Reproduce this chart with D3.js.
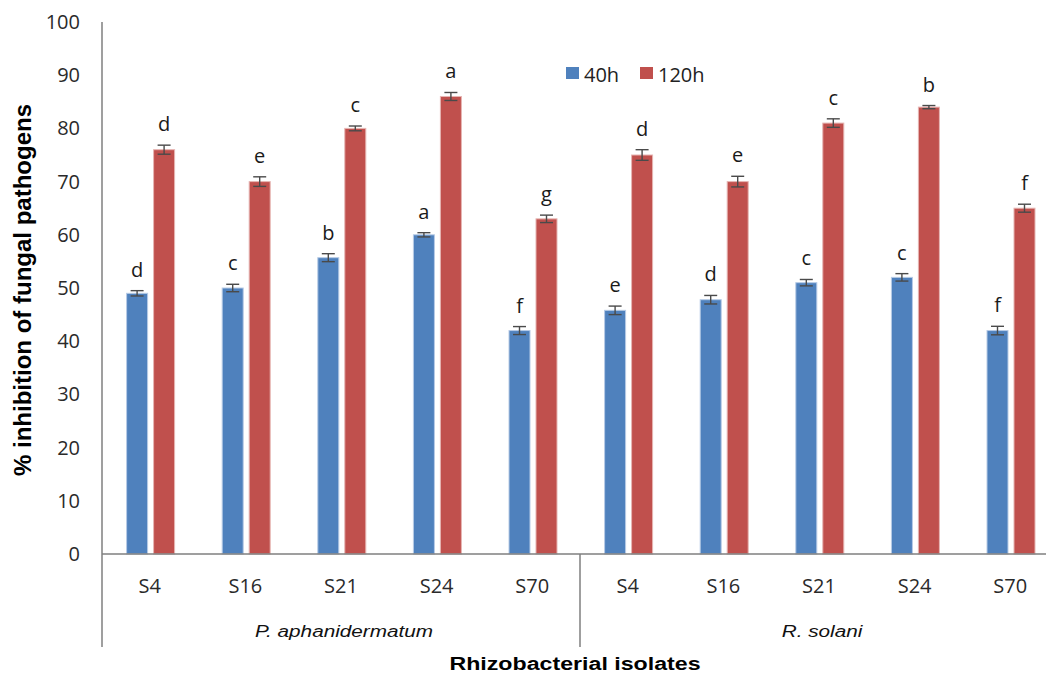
<!DOCTYPE html>
<html>
<head>
<meta charset="utf-8">
<script src="https://cdn.jsdelivr.net/npm/d3@7"></script>
<style>
  html, body { margin: 0; padding: 0; background: #fff; }
  svg { display: block; }
</style>
</head>
<body>
<svg id="chart" width="1046" height="673"></svg>
<script>
// Isolates tested against each pathogen
const isolates = ["S4", "S16", "S21", "S24", "S70"];
const pathogens = ["P. aphanidermatum", "R. solani"];
const seriesNames = ["40h", "120h"];
const seriesColors = ["#4F81BD", "#C0504D"];
const seriesEdges = ["#B7CBE6", "#E6B5B3"];

// % inhibition, P. aphanidermatum then R. solani
const inhibition40h  = [49.0, 50.0, 55.7, 60.0, 42.0,  45.8, 47.8, 51.0, 52.0, 42.0];
const inhibition120h = [76.0, 70.0, 80.0, 86.0, 63.0,  75.0, 70.0, 81.0, 84.0, 65.0];
// standard errors
const error40h  = [0.5, 0.7, 0.75, 0.4, 0.75,  0.8, 0.8, 0.6, 0.7, 0.8];
const error120h = [0.85, 0.9, 0.45, 0.75, 0.7,  1.0, 1.0, 0.8, 0.3, 0.75];
// significance letters
const letters40h  = ["d", "c", "b", "a", "f",  "e", "d", "c", "c", "f"];
const letters120h = ["d", "e", "c", "a", "g",  "d", "e", "c", "b", "f"];

const yTicks = [0, 10, 20, 30, 40, 50, 60, 70, 80, 90, 100];

const svg = d3.select("#chart");
const plotLeft = 102, plotRight = 1058, plotTop = 22, plotBottom = 554, catBottom = 647;

const cats = [];
pathogens.forEach((p, pi) => isolates.forEach((s, si) => cats.push({ key: pi + "-" + s, pathogen: p, isolate: s, i: pi * isolates.length + si })));

const x0 = d3.scaleBand().domain(cats.map(d => d.key)).range([plotLeft, plotRight]).padding(0);
const groupW = 48;
const x1 = d3.scaleBand().domain(seriesNames).range([0, groupW]).paddingInner(0.222);
const y = d3.scaleLinear().domain([0, 100]).range([plotBottom, plotTop]);

const values = [inhibition40h, inhibition120h];
const errors = [error40h, error120h];
const letters = [letters40h, letters120h];

const bars = [];
cats.forEach(c => seriesNames.forEach((s, k) => bars.push({
  cat: c, series: s, k, v: values[k][c.i], e: errors[k][c.i], letter: letters[k][c.i]
})));

const barX = d => x0(d.cat.key) + (x0.bandwidth() - groupW) / 2 + 0.8 + x1(d.series);

// Bars
svg.append("g").selectAll("rect").data(bars).join("rect")
  .attr("x", barX)
  .attr("y", d => y(d.v))
  .attr("width", x1.bandwidth())
  .attr("height", d => y(0) - y(d.v))
  .attr("fill", d => seriesColors[d.k])
  .attr("stroke", d => seriesEdges[d.k])
  .attr("stroke-width", 1);

// Error bars
const eb = svg.append("g").attr("stroke", "#4a4a4a").attr("stroke-width", 1.4).attr("fill", "none");
bars.forEach(d => {
  const cx = barX(d) + x1.bandwidth() / 2;
  const y1 = y(d.v + d.e), y2 = y(d.v - d.e);
  eb.append("line").attr("x1", cx).attr("x2", cx).attr("y1", y1).attr("y2", y2);
  eb.append("line").attr("x1", cx - 6.5).attr("x2", cx + 6.5).attr("y1", y1).attr("y2", y1);
  eb.append("line").attr("x1", cx - 6.5).attr("x2", cx + 6.5).attr("y1", y2).attr("y2", y2);
});

// Significance letters
svg.append("g").selectAll("text").data(bars).join("text")
  .attr("x", d => barX(d) + x1.bandwidth() / 2)
  .attr("y", d => y(d.v + d.e) - 14)
  .attr("text-anchor", "middle")
  .attr("font-family", "'Open Sans', sans-serif")
  .attr("font-size", 20)
  .attr("fill", "#1a1a1a")
  .text(d => d.letter);

// Y axis
const yAxis = svg.append("g").attr("transform", `translate(${plotLeft},0)`)
  .call(d3.axisLeft(y).tickValues(yTicks).tickSize(0).tickPadding(22));
yAxis.select(".domain").remove();
yAxis.selectAll("text")
  .attr("font-family", "'Open Sans', sans-serif")
  .attr("font-size", 20)
  .attr("fill", "#2a2a2a");

const axisColor = "#7f7f7f";
svg.append("line").attr("x1", plotLeft).attr("x2", plotLeft).attr("y1", plotTop).attr("y2", catBottom)
  .attr("stroke", axisColor).attr("stroke-width", 1.5);
svg.append("line").attr("x1", plotLeft).attr("x2", plotRight).attr("y1", plotBottom).attr("y2", plotBottom)
  .attr("stroke", axisColor).attr("stroke-width", 1.5);

// Pathogen group dividers and names
pathogens.forEach((p, pi) => {
  const startKey = pi + "-" + isolates[0];
  const endKey = pi + "-" + isolates[isolates.length - 1];
  const gx0 = x0(startKey), gx1 = x0(endKey) + x0.bandwidth();
  svg.append("line").attr("x1", gx1).attr("x2", gx1).attr("y1", plotBottom).attr("y2", catBottom)
    .attr("stroke", axisColor).attr("stroke-width", 1.5);
  svg.append("text")
    .attr("transform", `translate(${(gx0 + gx1) / 2 + 3},637) scale(1.22,1)`)
    .attr("text-anchor", "middle")
    .attr("font-family", "'Liberation Sans', Arial, sans-serif")
    .attr("font-style", "italic")
    .attr("font-size", 17)
    .attr("fill", "#111")
    .text(p);
});

// Isolate labels
svg.append("g").selectAll("text").data(cats).join("text")
  .attr("x", d => x0(d.key) + x0.bandwidth() / 2)
  .attr("y", 593)
  .attr("text-anchor", "middle")
  .attr("font-family", "'Open Sans', sans-serif")
  .attr("font-size", 20)
  .attr("fill", "#2a2a2a")
  .text(d => d.isolate);

// Axis titles
svg.append("text")
  .attr("transform", `translate(575,670) scale(1.22,1)`)
  .attr("text-anchor", "middle")
  .attr("font-family", "'Liberation Sans', Arial, sans-serif")
  .attr("font-weight", "bold")
  .attr("font-size", 19)
  .attr("fill", "#000")
  .text("Rhizobacterial isolates");

svg.append("text")
  .attr("transform", `translate(31,${(plotTop + plotBottom) / 2 + 2}) rotate(-90)`)
  .attr("text-anchor", "middle")
  .attr("font-family", "'Liberation Sans', Arial, sans-serif")
  .attr("font-weight", "bold")
  .attr("font-size", 24)
  .attr("fill", "#000")
  .text("% inhibition of fungal pathogens");

// Legend
const legendX = [566, 640];
const legend = svg.append("g");
seriesNames.forEach((s, k) => {
  legend.append("rect").attr("x", legendX[k]).attr("y", 67).attr("width", 13).attr("height", 12)
    .attr("fill", seriesColors[k]);
  legend.append("text").attr("x", legendX[k] + 18).attr("y", 82)
    .attr("font-family", "'Open Sans', sans-serif")
    .attr("font-size", 20)
    .attr("fill", "#222")
    .text(s);
});
</script>
</body>
</html>
